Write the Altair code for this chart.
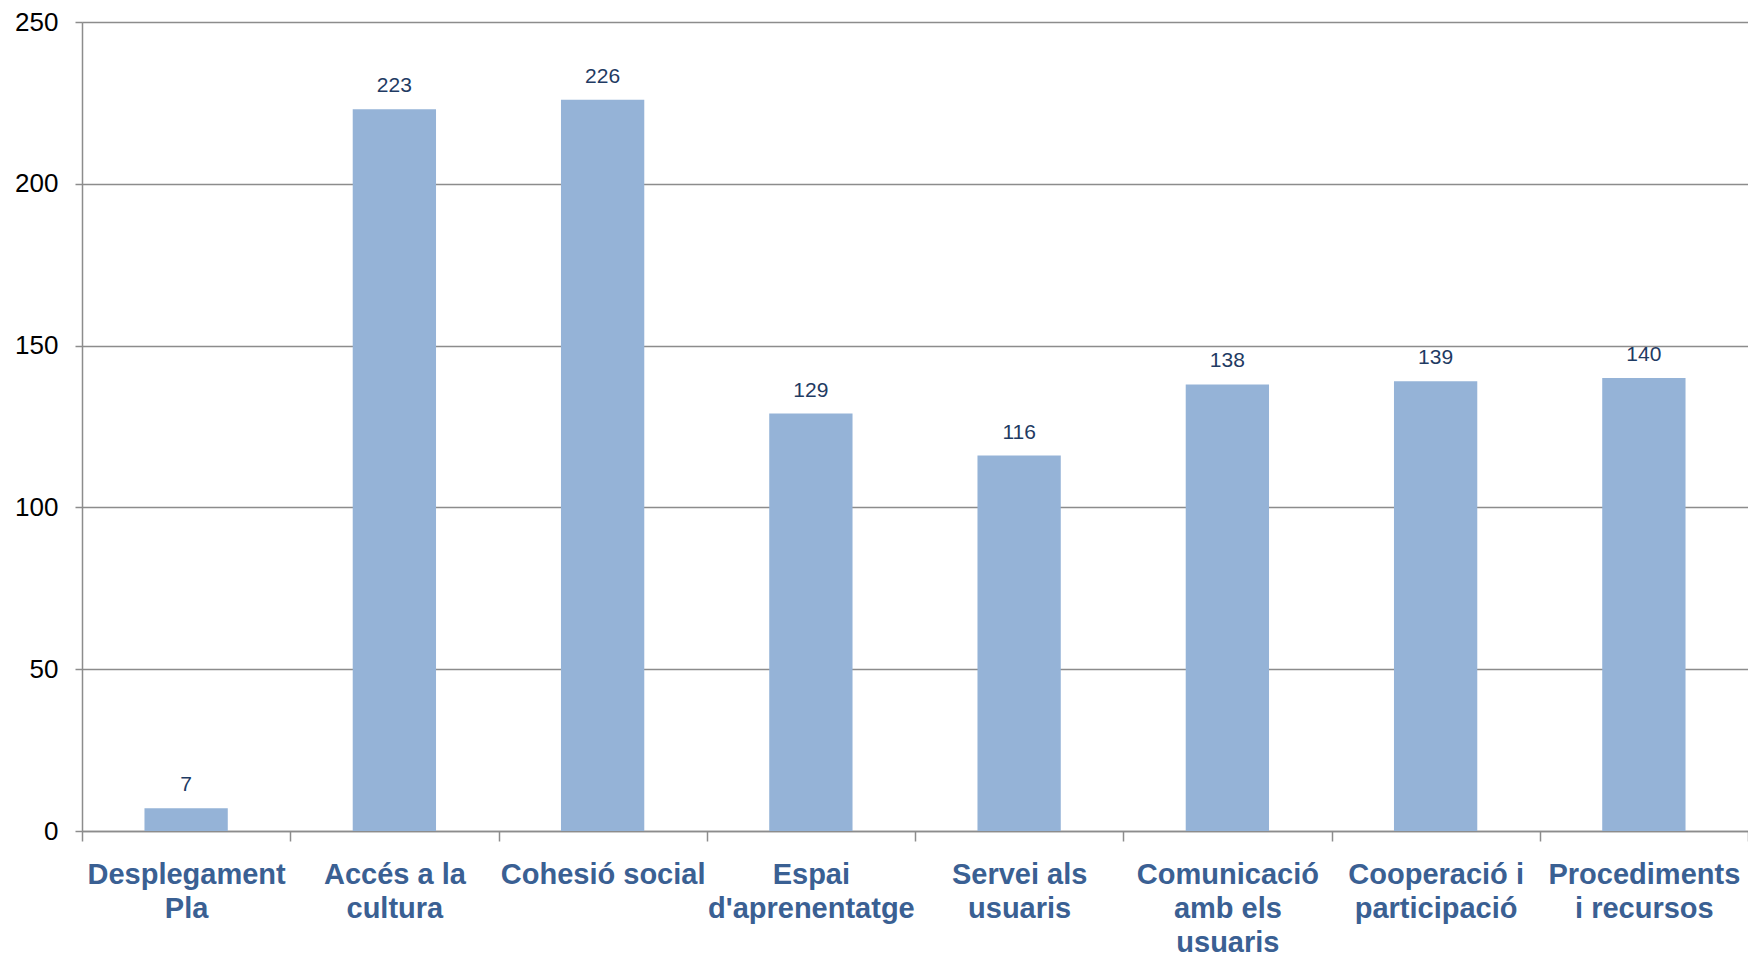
import altair as alt
import pandas as pd

categories = [
    "Desplegament|Pla",
    "Accés a la|cultura",
    "Cohesió social",
    "Espai|d'aprenentatge",
    "Servei als|usuaris",
    "Comunicació|amb els|usuaris",
    "Cooperació i|participació",
    "Procediments|i recursos",
]
values = [7, 223, 226, 129, 116, 138, 139, 140]
y_ticks = [0, 50, 100, 150, 200, 250]

df = pd.DataFrame({"categoria": categories, "valor": values})

FONT = "Liberation Sans"
GRID = "#8c8c8c"

x_enc = alt.X(
    "categoria:N",
    sort=None,
    title=None,
    scale=alt.Scale(paddingInner=0, paddingOuter=0),
    axis=alt.Axis(
        labelAngle=0,
        labelExpr="split(datum.label, '|')",
        labelFont=FONT,
        labelFontSize=29,
        labelFontWeight="bold",
        labelColor="#3A6093",
        labelLineHeight=34,
        labelPadding=19,
        labelLimit=300,
        tickBand="extent",
        tickSize=10,
        tickColor=GRID,
        tickWidth=1.5,
        domainColor=GRID,
        domainWidth=1.5,
        grid=False,
    ),
)

y_enc = alt.Y(
    "valor:Q",
    title=None,
    scale=alt.Scale(domain=[0, 250], nice=False),
    axis=alt.Axis(
        values=y_ticks,
        labelFont=FONT,
        labelFontSize=26,
        labelColor="#000000",
        labelPadding=17,
        tickSize=7,
        tickColor=GRID,
        tickWidth=1.5,
        domainColor=GRID,
        domainWidth=1.5,
        gridColor=GRID,
        gridWidth=1.5,
        minExtent=74,
        maxExtent=74,
    ),
)

bars = alt.Chart(df).mark_bar(
    color="#95B3D7", width=alt.RelativeBandSize(0.4)
).encode(x=x_enc, y=y_enc)

text = alt.Chart(df).mark_text(
    font=FONT, fontSize=21, color="#1F3B63", baseline="alphabetic", dy=-17
).encode(x=alt.X("categoria:N", sort=None), y="valor:Q", text="valor:Q")

chart = (
    alt.layer(bars, text)
    .properties(
        width=1666,
        height=809,
        autosize=alt.AutoSizeParams(type="none"),
        padding={"left": 74, "top": 14, "right": 0, "bottom": 131},
    )
    .configure_view(stroke=None)
    .configure(background="white")
)

chart.save("out.html", embed_options={"renderer": "svg", "actions": False})
